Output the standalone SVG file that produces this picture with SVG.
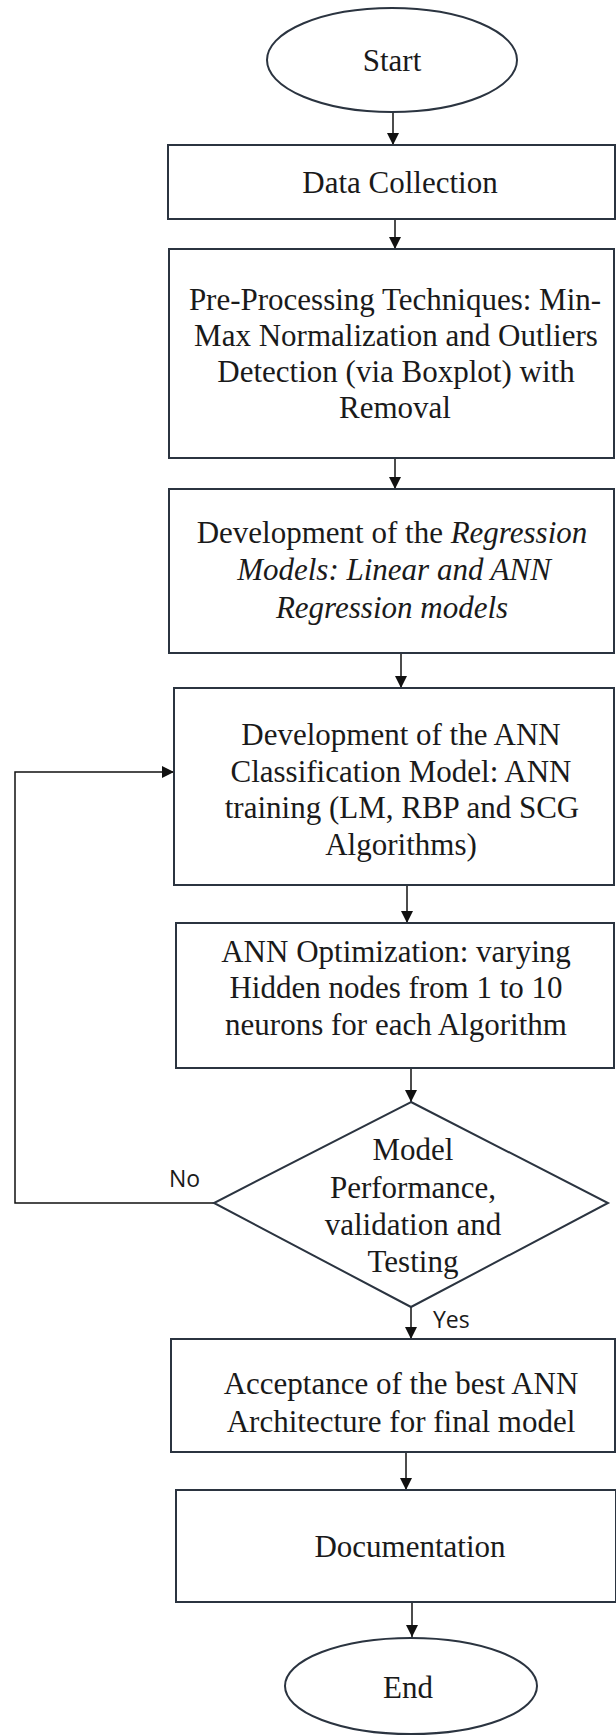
<svg xmlns="http://www.w3.org/2000/svg" width="616" height="1735" viewBox="0 0 616 1735">
  <defs>
    <style>
      .box { fill: #ffffff; stroke: #2b3440; stroke-width: 2; }
      .term { fill: #ffffff; stroke: #2b3440; stroke-width: 2; }
      .lbl { font-family: "Liberation Serif", "Times New Roman", serif; font-size: 31px; fill: #1a1a1a; text-anchor: middle; }
      .it { font-style: italic; }
      .tag { font-family: "Open Sans", "Liberation Sans", sans-serif; font-size: 23px; fill: #1a1a1a; }
      .edge { fill: none; stroke: #111111; stroke-width: 1.5; }
    </style>
    <marker id="arrow" markerUnits="userSpaceOnUse" markerWidth="12" markerHeight="14" viewBox="0 0 12 14" refX="12" refY="7" orient="auto">
      <path d="M0,1 L12,7 L0,13 Z" fill="#111111"/>
    </marker>
  </defs>

  <rect width="616" height="1735" fill="#ffffff"/>

  <!-- connectors -->
  <g id="connectors">
    <line class="edge" x1="393" y1="112" x2="393" y2="145" marker-end="url(#arrow)"/>
    <line class="edge" x1="395" y1="219" x2="395" y2="249" marker-end="url(#arrow)"/>
    <line class="edge" x1="395" y1="458" x2="395" y2="489" marker-end="url(#arrow)"/>
    <line class="edge" x1="401" y1="653" x2="401" y2="688" marker-end="url(#arrow)"/>
    <line class="edge" x1="407" y1="885" x2="407" y2="923" marker-end="url(#arrow)"/>
    <line class="edge" x1="411" y1="1068" x2="411" y2="1102" marker-end="url(#arrow)"/>
    <line class="edge" x1="411" y1="1307" x2="411" y2="1339" marker-end="url(#arrow)"/>
    <line class="edge" x1="406" y1="1452" x2="406" y2="1490" marker-end="url(#arrow)"/>
    <line class="edge" x1="412" y1="1602" x2="412" y2="1637" marker-end="url(#arrow)"/>
    <!-- "No" branch loops back to the classification step -->
    <polyline class="edge" points="214,1203 15,1203 15,772 174,772" marker-end="url(#arrow)"/>
    <text class="tag" x="169" y="1187">No</text>
    <text class="tag" x="433" y="1328">Yes</text>
  </g>

  <g id="start">
    <ellipse class="term" cx="392" cy="60" rx="125" ry="52"/>
    <text class="lbl" x="392" y="71">Start</text>
  </g>

  <g id="data-collection">
    <rect class="box" x="168" y="145" width="447" height="74"/>
    <text class="lbl" x="400" y="193">Data Collection</text>
  </g>

  <g id="pre-processing">
    <rect class="box" x="169" y="249" width="445" height="209"/>
    <text class="lbl" x="395" y="310">Pre-Processing Techniques: Min-</text>
    <text class="lbl" x="396" y="346">Max Normalization and Outliers</text>
    <text class="lbl" x="396" y="382">Detection (via Boxplot) with</text>
    <text class="lbl" x="395" y="418">Removal</text>
  </g>

  <g id="regression-models">
    <rect class="box" x="169" y="489" width="445" height="164"/>
    <text class="lbl" x="392" y="543">Development of the <tspan class="it">Regression</tspan></text>
    <text class="lbl it" x="394" y="580">Models: Linear and ANN</text>
    <text class="lbl it" x="392" y="618">Regression models</text>
  </g>

  <g id="classification-model">
    <rect class="box" x="174" y="688" width="440" height="197"/>
    <text class="lbl" x="401" y="745">Development of the ANN</text>
    <text class="lbl" x="401" y="782">Classification  Model: ANN</text>
    <text class="lbl" x="402" y="818">training (LM, RBP and SCG</text>
    <text class="lbl" x="401" y="855">Algorithms)</text>
  </g>

  <g id="optimization">
    <rect class="box" x="176" y="923" width="438" height="145"/>
    <text class="lbl" x="396" y="962">ANN Optimization:  varying</text>
    <text class="lbl" x="396" y="998">Hidden nodes from 1 to 10</text>
    <text class="lbl" x="396" y="1035">neurons for each Algorithm</text>
  </g>

  <g id="performance-check">
    <polygon class="box" points="411,1102 608,1203 411,1307 214,1203"/>
    <text class="lbl" x="413" y="1160">Model</text>
    <text class="lbl" x="413" y="1198">Performance,</text>
    <text class="lbl" x="413" y="1235">validation  and</text>
    <text class="lbl" x="413" y="1272">Testing</text>
  </g>

  <g id="acceptance">
    <rect class="box" x="171" y="1339" width="444" height="113"/>
    <text class="lbl" x="401" y="1394">Acceptance of the best ANN</text>
    <text class="lbl" x="401" y="1432">Architecture  for final  model</text>
  </g>

  <g id="documentation">
    <rect class="box" x="176" y="1490" width="440" height="112"/>
    <text class="lbl" x="410" y="1557">Documentation</text>
  </g>

  <g id="end">
    <ellipse class="term" cx="411" cy="1686" rx="126" ry="48"/>
    <text class="lbl" x="408" y="1698">End</text>
  </g>
</svg>
